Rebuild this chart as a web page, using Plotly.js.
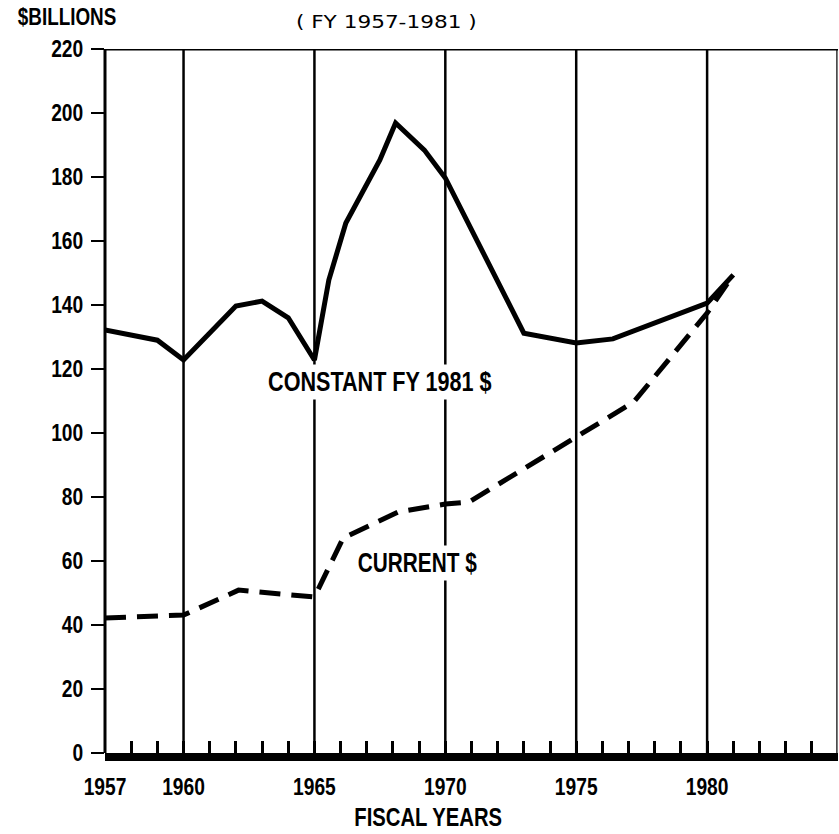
<!DOCTYPE html>
<html>
<head>
<meta charset="utf-8">
<script src="https://cdn.plot.ly/plotly-3.0.1.min.js"></script>
<style>html,body{margin:0;padding:0;background:#fff;}#chart{width:839px;height:834px;}</style>
</head>
<body>
<div id="chart"></div>
<script>
// Data
const constantYears = [1957, 1959, 1960, 1962, 1963, 1964, 1965, 1965.55, 1966.2, 1967.5, 1968.1, 1969.2, 1970, 1973, 1975, 1976.4, 1980, 1981];
const constantValues = [132.2, 129, 122.8, 139.7, 141.2, 136, 122.8, 147.8, 165.6, 185.3, 196.9, 188.4, 179.7, 131.2, 128.1, 129.4, 140.6, 149.4];
const currentYears = [1957, 1960, 1962.1, 1965, 1966.1, 1968.2, 1970, 1970.9, 1977.2, 1980, 1981];
const currentValues = [42.2, 43.1, 50.9, 48.75, 67.2, 75.3, 77.8, 78.4, 109.7, 137.5, 149.4];
const tickYears = [1957, 1958, 1959, 1960, 1961, 1962, 1963, 1964, 1965, 1966, 1967, 1968, 1969, 1970,
                   1971, 1972, 1973, 1974, 1975, 1976, 1977, 1978, 1979, 1980, 1981, 1982, 1983, 1984];
const labeledYears = [1957, 1960, 1965, 1970, 1975, 1980];
const tickText = tickYears.map(y => labeledYears.includes(y) ? String(y) : '');
const gridYears = [1960, 1965, 1970, 1975, 1980];
const yTicks = [0, 20, 40, 60, 80, 100, 120, 140, 160, 180, 200, 220];

const sansBold = '"Liberation Sans", Arial, sans-serif';

const traces = [
  {x: constantYears, y: constantValues, mode: 'lines', line: {color: '#000', width: 5}, hoverinfo: 'skip'},
  {x: currentYears, y: currentValues, mode: 'lines', line: {color: '#000', width: 5, dash: '21px,11px'}, hoverinfo: 'skip'}
];

const shapes = gridYears.map(g => ({type: 'line', xref: 'x', yref: 'y', x0: g, x1: g, y0: 0, y1: 220, line: {color: '#000', width: 2.5}, layer: 'below'}));
shapes.push({type: 'line', xref: 'paper', yref: 'y', x0: 0, x1: 1, y0: 220, y1: 220, line: {color: '#000', width: 3}});
shapes.push({type: 'line', xref: 'paper', yref: 'y', x0: 0, x1: 0, y0: 0, y1: 220, line: {color: '#000', width: 3}});
shapes.push({type: 'line', xref: 'paper', yref: 'y', x0: 0.9985, x1: 0.9985, y0: 0, y1: 220, line: {color: '#000', width: 1.2}});

const layout = {
  width: 839, height: 834,
  margin: {l: 105, r: 1, t: 49, b: 81},
  paper_bgcolor: '#fff', plot_bgcolor: '#fff',
  showlegend: false,
  xaxis: {
    range: [1957, 1985], tickmode: 'array', tickvals: tickYears, ticktext: tickText,
    ticks: 'inside', ticklen: 12, tickwidth: 3, tickcolor: '#000',
    showline: true, linewidth: 8, linecolor: '#000', showgrid: false, zeroline: false,
    ticklabelstandoff: 5,
    tickfont: {family: sansBold, size: 24, color: '#000', weight: 'bold'}
  },
  yaxis: {
    range: [0, 220], tickmode: 'array', tickvals: yTicks,
    ticks: 'outside', ticklen: 13, tickwidth: 2.5, tickcolor: '#000',
    showline: false, showgrid: false, zeroline: false,
    ticklabelstandoff: 3,
    tickfont: {family: sansBold, size: 24, color: '#000', weight: 'bold'}
  },
  shapes: shapes,
  annotations: [
    {text: 'CONSTANT FY 1981 $', xref: 'x', yref: 'y', x: 1967.5, y: 115.9, showarrow: false,
     font: {family: sansBold, size: 27, color: '#000', weight: 'bold'}, bgcolor: '#fff', borderpad: 2},
    {text: 'CURRENT $', xref: 'x', yref: 'y', x: 1968.92, y: 59.4, showarrow: false,
     font: {family: sansBold, size: 27, color: '#000', weight: 'bold'}, bgcolor: '#fff', borderpad: 2},
    {text: '$BILLIONS', xref: 'paper', yref: 'paper', x: -0.0512, xanchor: 'center', y: 1.0455, yanchor: 'middle', showarrow: false,
     font: {family: sansBold, size: 23, color: '#000', weight: 'bold'}},
    {text: '( FY 1957-1981 )', xref: 'paper', yref: 'paper', x: 0.384, xanchor: 'center', y: 1.039, yanchor: 'middle', showarrow: false,
     font: {family: '"DejaVu Sans", sans-serif', size: 18, color: '#000'}},
    {text: 'FISCAL YEARS', xref: 'paper', yref: 'paper', x: 0.441, xanchor: 'center', y: -0.0909, yanchor: 'middle', showarrow: false,
     font: {family: sansBold, size: 25, color: '#000', weight: 'bold'}}
  ]
};

// horizontally condense text (the reference uses a condensed typeface)
function squeeze(el, s, mode) {
  const bb = el.getBBox();
  let cx = bb.x + bb.width / 2;
  if (mode === 'end') cx = bb.x + bb.width;
  if (mode === 'start') cx = bb.x;
  const t = el.getAttribute('transform') || '';
  el.setAttribute('transform', t + ' translate(' + cx + ',0) scale(' + s + ',1) translate(' + (-cx) + ',0)');
}

Plotly.newPlot('chart', traces, layout, {staticPlot: true, displayModeBar: false}).then(gd => {
  gd.querySelectorAll('.xtick text').forEach(el => squeeze(el, 0.8, 'middle'));
  gd.querySelectorAll('.ytick text').forEach(el => squeeze(el, 0.8, 'end'));
  const scales = [0.8, 0.77, 0.82, 1.2, 0.81];
  gd.querySelectorAll('.annotation').forEach((g, i) => {
    const inner = g.querySelector('.annotation-text-g') || g;
    squeeze(inner, scales[i], 'middle');
  });
});
</script>
</body>
</html>
